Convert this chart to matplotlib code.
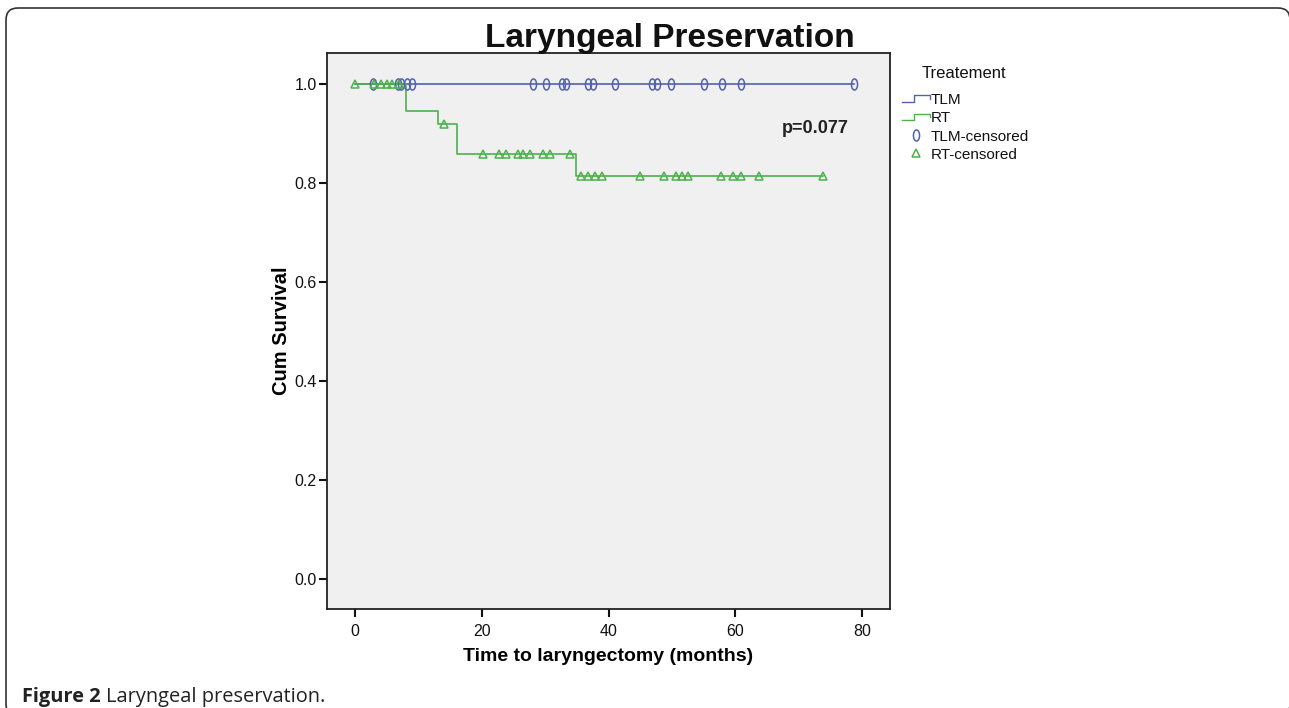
import matplotlib
matplotlib.use("Agg")
import matplotlib.pyplot as plt
import numpy as np
from matplotlib.path import Path
from matplotlib.lines import Line2D
from matplotlib.legend_handler import HandlerLine2D
from matplotlib.patches import FancyBboxPatch
from matplotlib.transforms import IdentityTransform

plt.rcParams['font.family'] = ['Liberation Sans', 'DejaVu Sans']

# --- data ---
groups = ['TLM', 'RT']

# TLM: no events, only censored cases
tlm_times = [0, 78.7]
tlm_surv = [1.0, 1.0]
tlm_censored = [2.9, 6.8, 7.3, 8.2, 9.0, 28.1, 30.1, 32.7, 33.3, 36.7, 37.5,
                41.0, 46.8, 47.6, 49.9, 55.0, 57.9, 60.9, 78.7]

# RT: four laryngectomies
rt_times = [0, 8.0, 13.1, 16.1, 34.9, 73.8]
rt_surv = [1.0, 0.946, 0.918, 0.859, 0.813, 0.813]
rt_censored = [0, 3.0, 4.1, 5.0, 5.9, 7.0, 14.1, 20.2, 22.8, 23.9, 25.7, 26.5,
               27.6, 29.7, 30.7, 33.9, 35.7, 36.8, 37.8, 38.9, 44.9, 48.8,
               50.7, 51.6, 52.6, 57.7, 59.6, 60.9, 63.8, 73.8]

p_text = 'p=0.077'
x_ticks = [0, 20, 40, 60, 80]
y_ticks = [0.0, 0.2, 0.4, 0.6, 0.8, 1.0]

BLUE = '#5262ad'
GREEN = '#4cb24c'


def level_at(times, surv, t):
    """survival level of a step curve at time t"""
    idx = np.searchsorted(times, t, side='right') - 1
    return np.asarray(surv)[idx]


# tall narrow ellipse, like the SPSS censor mark
circ = Path.unit_circle()
ellipse = Path(circ.vertices * [0.55, 1.0], circ.codes)


class StepHandler(HandlerLine2D):
    """legend handle drawn as a little step"""
    def create_artists(self, legend, orig_handle, xdescent, ydescent,
                       width, height, fontsize, trans):
        xs = np.array([0, 0.45, 0.45, 1.0, 1.0]) * width - xdescent
        ys = np.array([0.2, 0.2, 0.8, 0.8, 0.5]) * height - ydescent
        line = Line2D(xs, ys, color=orig_handle.get_color(), lw=1.0,
                      transform=trans)
        return [line]


fig = plt.figure(figsize=(12.89, 7.08), dpi=100)
ax = fig.add_axes([0.2537, 0.1398, 0.4368, 0.7853])
ax.set_facecolor('#f0f0f0')

ax.step(tlm_times, tlm_surv, where='post', color=BLUE, lw=1.2)
ax.step(rt_times, rt_surv, where='post', color=GREEN, lw=1.2)
ax.plot(tlm_censored, level_at(tlm_times, tlm_surv, tlm_censored), ls='none',
        marker=ellipse, ms=8, mfc='none', mec=BLUE, mew=1.1)
ax.plot(rt_censored, level_at(rt_times, rt_surv, rt_censored), ls='none',
        marker='^', ms=6, mfc='none', mec=GREEN, mew=1.1)

ax.text(72.6, 0.91, p_text, fontsize=13, fontweight='bold', color='#222222',
        ha='center', va='center')

ax.set_xlim(-4.4, 84.4)
ax.set_ylim(-0.06, 1.062)
ax.set_xticks(x_ticks)
ax.set_yticks(y_ticks)
ax.set_yticklabels([f'{v:.1f}' for v in y_ticks])
ax.tick_params(direction='out', length=5.5, width=1.5, labelsize=11.5,
               colors='#111111')
ax.tick_params(axis='x', pad=5)
ax.tick_params(axis='y', pad=2)
for side in ['top', 'right', 'left', 'bottom']:
    ax.spines[side].set_linewidth(1.3)
    ax.spines[side].set_color('#222222')

ax.set_xlabel('Time to laryngectomy (months)', fontsize=14, fontweight='bold',
              labelpad=7)
ax.set_ylabel('Cum Survival', fontsize=14.5, fontweight='bold', labelpad=2)

fig.text(670 / 1289, 1 - 47 / 708, 'Laryngeal Preservation', fontsize=24,
         fontweight='bold', ha='center', va='baseline', color='#111111')

# legend, with its heading set a bit apart as in the original
fig.text(964 / 1289, 1 - 73 / 708, 'Treatement', fontsize=12, ha='center',
         va='center', color='#111111')
handles = [
    Line2D([], [], color=BLUE),
    Line2D([], [], color=GREEN),
    Line2D([], [], ls='none', marker=ellipse, ms=8, mfc='none', mec=BLUE, mew=1.1),
    Line2D([], [], ls='none', marker='^', ms=6, mfc='none', mec=GREEN, mew=1.1),
]
labels = groups + [g + '-censored' for g in groups]
leg = fig.legend(handles, labels, loc='upper left',
                 bbox_to_anchor=(902 / 1289, 1 - 93 / 708), frameon=False,
                 fontsize=11, borderpad=0, borderaxespad=0,
                 handlelength=1.8, handletextpad=0.1, labelspacing=0.28,
                 handler_map={handles[0]: StepHandler(),
                              handles[1]: StepHandler()})
for t in leg.get_texts():
    t.set_color('#111111')

# caption under the figure
cap = fig.text(22 / 1289, 6 / 708, 'Figure 2 ', fontsize=14.4, fontweight='bold',
               family='Open Sans', va='baseline', color='#222222')
ax.annotate('Laryngeal preservation.', xy=(1, 0), xycoords=cap, va='bottom',
            ha='left', fontsize=14.4, family='Open Sans', color='#222222',
            annotation_clip=False)

# rounded frame of the article figure, running off the right and bottom edges
frame = FancyBboxPatch((6, -8), 1284, 708, boxstyle='round,pad=0,rounding_size=12',
                       transform=IdentityTransform(), fill=False,
                       edgecolor='#333333', lw=1.2)
fig.patches.append(frame)

fig.savefig('out.png', dpi=100, facecolor='white')
